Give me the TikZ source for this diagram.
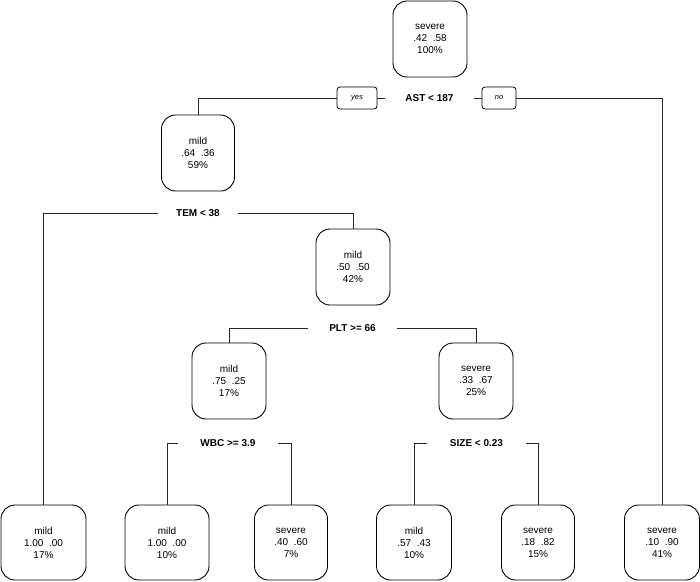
\documentclass[tikz,border=0pt]{standalone}
\usepackage{fontspec}
\setmainfont{Liberation Sans}
\begin{document}
\begin{tikzpicture}[x=1pt,y=-1pt,
  box/.style={draw=black,line width=0.9pt,rounded corners=14pt,inner sep=0pt,
    minimum height=76pt,align=center,font=\fontsize{10}{12}\selectfont},
  lbl/.style={inner sep=0pt,minimum height=10pt,font=\fontsize{10}{12}\selectfont\bfseries},
  yn/.style={draw=black,line width=0.8pt,rounded corners=3pt,inner sep=0pt,
    minimum height=22pt,font=\fontsize{7.5}{9}\selectfont\itshape},
  br/.style={draw=black!85,line width=0.9pt}]
\useasboundingbox (0,0) rectangle (700,581);
% internal nodes
\node[box,minimum width=74pt] (root) at (430,39) {severe\\.42\ \ .58\\100\%};
\node[box,minimum width=73pt] (n2) at (198,153) {mild\\.64\ \ .36\\59\%};
\node[box,minimum width=74pt] (n3) at (353,267) {mild\\.50\ \ .50\\42\%};
\node[box,minimum width=74pt] (n4) at (229,381) {mild\\.75\ \ .25\\17\%};
\node[box,minimum width=74pt] (n5) at (476,381) {severe\\.33\ \ .67\\25\%};
% leaves
\node[box,minimum width=85pt,minimum height=75pt] (l1) at (43.5,542.5) {mild\\1.00\ \ .00\\17\%};
\node[box,minimum width=84pt,minimum height=75pt] (l2) at (167,542.5) {mild\\1.00\ \ .00\\10\%};
\node[box,minimum width=73pt,minimum height=75pt] (l3) at (291,542.5) {severe\\.40\ \ .60\\7\%};
\node[box,minimum width=75pt,minimum height=75pt] (l4) at (414,542.5) {mild\\.57\ \ .43\\10\%};
\node[box,minimum width=73pt,minimum height=75pt] (l5) at (538,542.5) {severe\\.18\ \ .82\\15\%};
\node[box,minimum width=75pt,minimum height=75pt] (l6) at (662,542.5) {severe\\.10\ \ .90\\41\%};
% split labels
\node[lbl,minimum width=89pt] (s1) at (429.5,98) {AST < 187};
\node[yn,minimum width=40pt] (yes) at (357,98) {yes};
\node[yn,minimum width=34pt] (no) at (499,98) {no};
\node[lbl,minimum width=80pt] (s2) at (198,213) {TEM < 38};
\node[lbl,minimum width=89pt] (s3) at (352.5,328) {PLT >= 66};
\node[lbl,minimum width=100pt] (s4) at (228,443) {WBC >= 3.9};
\node[lbl,minimum width=99pt] (s5) at (476.5,443) {SIZE < 0.23};
% branches
\draw[br] (yes.west) -| (n2.north);
\draw[br] (yes.east) -- (s1.west);
\draw[br] (s1.east) -- (no.west);
\draw[br] (no.east) -| (l6.north);
\draw[br] (s2.west) -| (l1.north);
\draw[br] (s2.east) -| (n3.north);
\draw[br] (s3.west) -| (n4.north);
\draw[br] (s3.east) -| (n5.north);
\draw[br] (s4.west) -| (l2.north);
\draw[br] (s4.east) -| (l3.north);
\draw[br] (s5.west) -| (l4.north);
\draw[br] (s5.east) -| (l5.north);
\end{tikzpicture}
\end{document}
